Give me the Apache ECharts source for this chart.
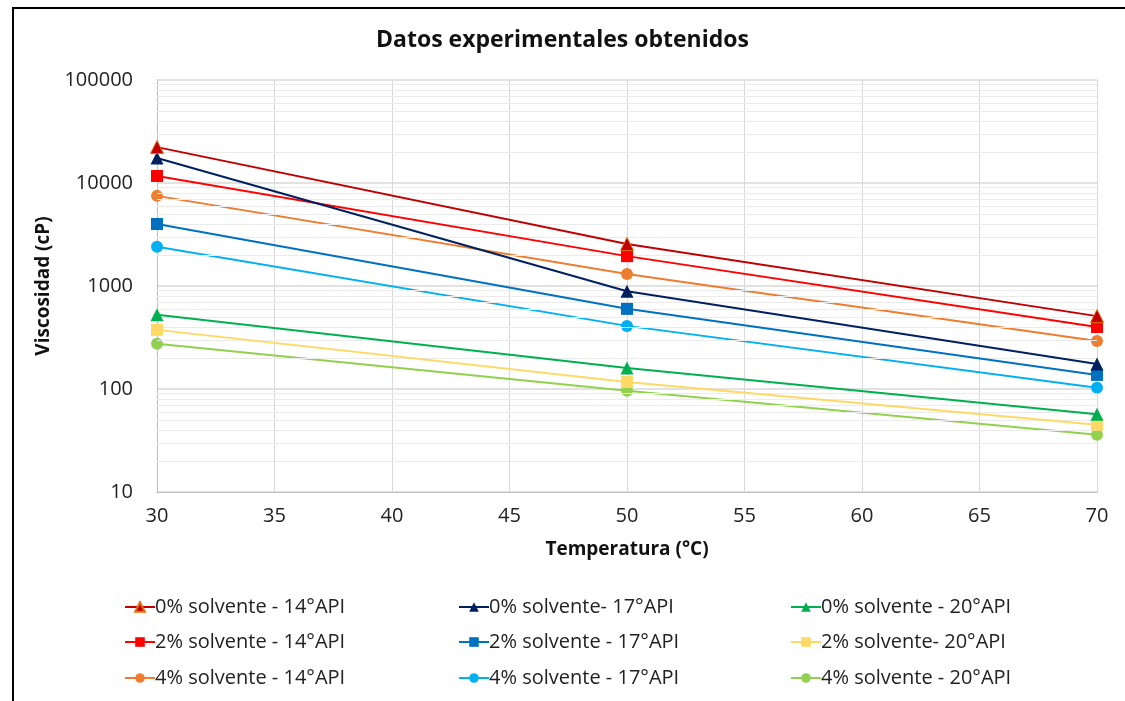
<!DOCTYPE html>
<html>
<head>
<meta charset="utf-8">
<script src="https://cdn.jsdelivr.net/npm/echarts@6/dist/echarts.min.js"></script>
<style>
html,body{margin:0;padding:0;background:#fff;}
#c{width:1125px;height:701px;}
</style>
</head>
<body>
<div id="c"></div>
<script>
const temps = [30, 50, 70];
const yTicks = [10, 100, 1000, 10000, 100000];
const xTicks = [30, 35, 40, 45, 50, 55, 60, 65, 70];

const names = [
  "0% solvente - 14°API", "0% solvente- 17°API", "0% solvente - 20°API",
  "2% solvente - 14°API", "2% solvente - 17°API", "2% solvente- 20°API",
  "4% solvente - 14°API", "4% solvente - 17°API", "4% solvente - 20°API"
];
const s0_14 = [22300, 2560, 510];
const s0_17 = [17500, 890, 175];
const s0_20 = [525, 160, 57];
const s2_14 = [11700, 1950, 400];
const s2_17 = [4000, 600, 137];
const s2_20 = [375, 117, 45];
const s4_14 = [7500, 1310, 292];
const s4_17 = [2400, 410, 103];
const s4_20 = [275, 96, 36];

const values = [s0_14, s0_17, s0_20, s2_14, s2_17, s2_20, s4_14, s4_17, s4_20];
const colors = ["#C00000", "#002060", "#00B050", "#FF0000", "#0070C0", "#FFD966", "#ED7D31", "#00B0F0", "#92D050"];
const symbols = ["triangle", "triangle", "triangle", "rect", "rect", "rect", "circle", "circle", "circle"];

const FONT = "'Open Sans', Lato, sans-serif";

const minorVals = [];
for (let k = 10; k < 100000; k *= 10) {
  for (let m = 2; m <= 9; m++) minorVals.push(m * k);
}

const series = values.map((v, i) => ({
  name: names[i],
  type: 'line',
  data: temps.map((t, j) => [t, v[j]]),
  symbol: symbols[i],
  symbolSize: symbols[i] === 'triangle' ? 13 : 12,
  lineStyle: { color: colors[i], width: 2 },
  itemStyle: { color: colors[i], borderColor: i === 0 ? '#E46C0A' : colors[i], borderWidth: i === 0 ? 1 : 0 },
  z: 10 - i
}));

series.push({
  name: 'minorGrid',
  type: 'line',
  data: [],
  silent: true,
  markLine: {
    silent: true,
    symbol: 'none',
    label: { show: false },
    lineStyle: { color: '#EBEBEB', width: 1, type: 'solid' },
    data: minorVals.map(v => ({ yAxis: v })),
    animation: false
  },
  z: 1
});

const legendLefts = [119, 453, 785];
const legendTops = [592, 627, 663];
const legends = names.map((n, i) => ({
  left: legendLefts[i % 3],
  top: legendTops[Math.floor(i / 3)],
  itemWidth: 30,
  itemHeight: 12,
  data: [n],
  textStyle: { fontFamily: FONT, fontSize: 20, color: '#222', padding: [0, 0, 0, -5] }
}));

const chart = echarts.init(document.getElementById('c'));
chart.setOption({
  animation: false,
  backgroundColor: '#fff',
  title: {
    text: 'Datos experimentales obtenidos',
    left: 'center',
    top: 24,
    textStyle: { fontFamily: FONT, fontSize: 23, fontWeight: 'bold', color: '#111' }
  },
  graphic: [{
    type: 'rect',
    shape: { x: 13, y: 8, width: 1200, height: 800 },
    style: { fill: 'none', stroke: '#000', lineWidth: 2 },
    silent: true
  }],
  grid: { left: 157, right: 28, top: 80, bottom: 209 },
  xAxis: {
    type: 'value',
    min: 30, max: 70, interval: 5,
    name: 'Temperatura (°C)',
    nameLocation: 'middle',
    nameGap: 48,
    nameTextStyle: { fontFamily: FONT, fontSize: 19, fontWeight: 'bold', color: '#111' },
    axisLine: { show: true, lineStyle: { color: '#BFBFBF', width: 1 } },
    axisTick: { show: false },
    axisLabel: {
      fontFamily: FONT, fontSize: 20, color: '#222', margin: 14,
      formatter: v => xTicks.includes(v) ? String(v) : ''
    },
    splitLine: { show: true, lineStyle: { color: '#D9D9D9', width: 1 } }
  },
  yAxis: {
    type: 'log',
    logBase: 10,
    min: yTicks[0], max: yTicks[yTicks.length - 1],
    name: 'Viscosidad (cP)',
    nameLocation: 'middle',
    nameGap: 101,
    nameTextStyle: { fontFamily: FONT, fontSize: 19, fontWeight: 'bold', color: '#111' },
    axisLine: { show: true, lineStyle: { color: '#BFBFBF', width: 1 } },
    axisTick: { show: false },
    axisLabel: { fontFamily: FONT, fontSize: 20, color: '#222', margin: 24, formatter: v => String(v) },
    splitLine: { show: true, lineStyle: { color: '#D9D9D9', width: 1.5 } }
  },
  legend: legends,
  series: series
});
</script>
</body>
</html>
